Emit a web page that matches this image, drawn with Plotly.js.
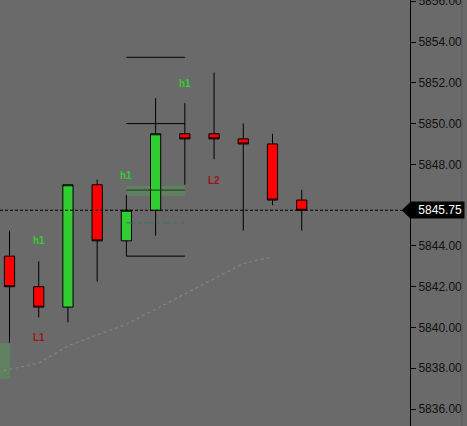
<!DOCTYPE html>
<html>
<head>
<meta charset="utf-8">
<script src="https://cdn.plot.ly/plotly-3.0.1.min.js"></script>
<style>html,body{margin:0;padding:0;background:#6a6a6a;}#chart{width:467px;height:426px;}</style>
</head>
<body>
<div id="chart"></div>
<script>
// ---- data ----
const barIndex = [0, 1, 2, 3, 4, 5, 6, 7, 8, 9, 10];
const openP  = [5843.5, 5842.0, 5841.0, 5847.0, 5844.25, 5845.75, 5849.5, 5849.5, 5849.25, 5849.0, 5846.25];
const highP  = [5844.75, 5843.25, 5847.0, 5847.25, 5846.5, 5851.25, 5851.0, 5852.5, 5850.0, 5849.5, 5846.75];
const lowP   = [5839.25, 5840.5, 5840.25, 5842.25, 5843.5, 5844.5, 5847.0, 5848.25, 5844.75, 5846.0, 5844.75];
const closeP = [5842.0, 5841.0, 5847.0, 5844.25, 5845.75, 5849.5, 5849.25, 5849.25, 5849.0, 5846.25, 5845.75];

const maX = [-1, 0, 1, 2, 3, 4, 5, 6, 7, 8, 9];
const maY = [5837.6, 5837.95, 5838.25, 5839.1, 5839.63, 5840.16, 5840.9, 5841.65, 5842.4, 5843.14, 5843.46];

const labelText  = ["h1", "h1", "h1", "L1", "L2"];
const labelX     = [1, 4, 6, 1, 7];
const labelY     = [5844.25, 5847.45, 5851.95, 5839.5, 5847.2];
const labelColor = ["#33cc33", "#33cc33", "#33cc33", "#a01414", "#a01414"];

const levelPrices = [5853.25, 5850.0, 5843.5];
const levelStart = 4, levelEnd = 6;
const zonePrice = [5846.46, 5846.95];
const zoneMid = 5846.74;
const dashDotPrice = 5845.13;
const bottomZone = [5837.48, 5839.23];
const lastPrice = 5845.75;

const yTicks = [5836, 5838, 5840, 5842, 5844, 5848, 5850, 5852, 5854, 5856];

// ---- traces ----
const traces = [
  {
    type: 'scatter', mode: 'lines', x: maX, y: maY,
    line: {color: '#838383', width: 1.2, dash: 'dot'}, hoverinfo: 'skip', showlegend: false
  },
  {
    type: 'candlestick', x: barIndex, open: openP, high: highP, low: lowP, close: closeP,
    increasing: {fillcolor: '#32cd32', line: {color: '#000', width: 1}},
    decreasing: {fillcolor: '#ff0000', line: {color: '#000', width: 1}},
    whiskerwidth: 0, hoverinfo: 'skip', showlegend: false
  }
];

const shapes = [];
levelPrices.forEach(p => shapes.push({type: 'line', xref: 'x', yref: 'y', x0: levelStart, x1: levelEnd, y0: p, y1: p, line: {color: '#000', width: 1}}));
shapes.push({type: 'rect', xref: 'x', yref: 'y', x0: levelStart, x1: levelEnd, y0: zonePrice[0], y1: zonePrice[1], fillcolor: 'rgba(80,170,80,0.35)', line: {width: 0}, layer: 'below'});
shapes.push({type: 'line', xref: 'x', yref: 'y', x0: levelStart, x1: levelEnd, y0: zoneMid, y1: zoneMid, line: {color: '#1d3a1d', width: 1}});
shapes.push({type: 'line', xref: 'x', yref: 'y', x0: levelStart, x1: levelEnd, y0: dashDotPrice, y1: dashDotPrice, line: {color: '#3e6f62', width: 1, dash: 'dashdot'}});
shapes.push({type: 'rect', xref: 'x', yref: 'y', x0: -0.4, x1: 0.017, y0: bottomZone[0], y1: bottomZone[1], fillcolor: 'rgba(80,170,80,0.35)', line: {width: 0}, layer: 'below'});
shapes.push({type: 'line', xref: 'paper', yref: 'y', x0: 0, x1: 0.98, y0: lastPrice, y1: lastPrice, line: {color: '#000', width: 1, dash: '3px,2px'}});
// price tag notch
shapes.push({type: 'path', xref: 'paper', yref: 'y', path: 'M 0.98 ' + lastPrice + ' L 1.0 ' + (lastPrice + 0.39) + ' L 1.0 ' + (lastPrice - 0.39) + ' Z', fillcolor: '#000', line: {width: 0}});
// right border strip
shapes.push({type: 'line', xref: 'paper', yref: 'paper', x0: 1.1265, x1: 1.1265, y0: 0, y1: 1, line: {color: '#5a5a5a', width: 1}});

const annotations = labelText.map((t, i) => ({
  x: labelX[i], y: labelY[i], xref: 'x', yref: 'y', text: '<b>' + t + '</b>', showarrow: false,
  font: {family: 'Liberation Sans, Arial, sans-serif', size: 10, color: labelColor[i]}
}));
annotations.push({
  x: 1.0, y: lastPrice, xref: 'paper', yref: 'y', xanchor: 'left', yanchor: 'middle',
  text: lastPrice.toFixed(2), showarrow: false, bgcolor: '#000', borderpad: 2,
  width: 49, height: 12, align: 'right',
  font: {family: 'Liberation Sans, Arial, sans-serif', size: 12, color: '#fff'}
});

const layout = {
  width: 467, height: 426,
  margin: {l: 0, r: 57, t: 0, b: 0, pad: 0},
  paper_bgcolor: '#6a6a6a', plot_bgcolor: '#6a6a6a',
  showlegend: false,
  boxgap: 0.5,
  xaxis: {range: [-0.325, 13.705], visible: false, fixedrange: true, rangeslider: {visible: false}},
  yaxis: {
    side: 'right', range: [5835.17, 5856.06], showgrid: false, zeroline: false,
    showline: true, linecolor: '#000', linewidth: 1,
    ticks: 'outside', ticklen: 5, tickcolor: '#000',
    tickvals: yTicks, ticktext: yTicks.map(v => v.toFixed(2)),
    ticklabeloverflow: 'allow',
    tickfont: {family: 'Liberation Sans, Arial, sans-serif', size: 12, color: '#111'}
  },
  shapes: shapes,
  annotations: annotations
};

Plotly.newPlot('chart', traces, layout, {staticPlot: true, displayModeBar: false});
</script>
</body>
</html>
